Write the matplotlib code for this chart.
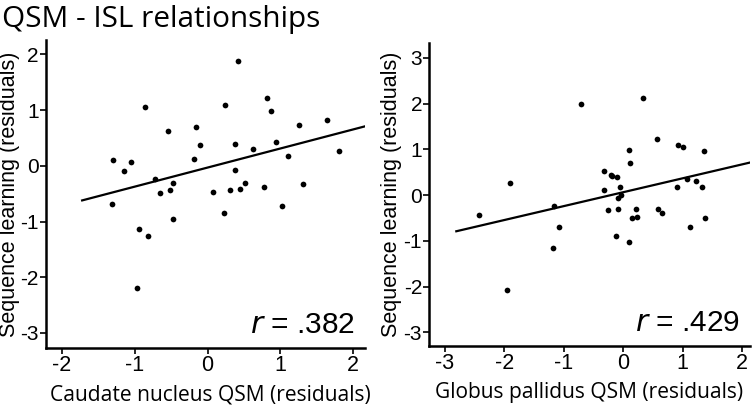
import numpy as np
import matplotlib
matplotlib.use("Agg")
import matplotlib.pyplot as plt

# caudate nucleus panel
caudate_x = [-1.30, -1.15, -1.05, -0.86, -0.72, -0.65, -0.54, -0.52, -0.48, -1.31,
             -0.19, -0.16, -0.10, 0.08, 0.24, 0.31, 0.37, 0.38, 0.42, 0.45,
             0.52, 0.62, 0.78, 0.82, 0.87, 0.94, 1.02, 1.11, 1.25, 1.31,
             1.64, 1.80, -0.94, -0.82, -0.47, 0.22, -0.97]
caudate_y = [0.11, -0.10, 0.07, 1.05, -0.23, -0.48, 0.62, -0.43, -0.30, -0.68,
             0.13, 0.70, 0.38, -0.47, 1.09, -0.44, 0.39, -0.07, 1.89, -0.41,
             -0.30, 0.31, -0.38, 1.21, 0.99, 0.42, -0.72, 0.18, 0.73, -0.32,
             0.83, 0.26, -1.14, -1.25, -0.96, -0.84, -2.20]
caudate_fit_x = [-1.72, 2.16]
caudate_fit_y = [-0.62, 0.71]

# globus pallidus panel
pallidus_x = [-1.90, -0.71, -1.17, 0.34, 0.57, 0.10, 0.12, 0.93, 1.01, 1.36,
              -0.32, -0.21, -0.18, -0.11, -0.32, -0.06, -0.03, -0.09, 0.90, 1.08,
              1.22, 1.32, -2.42, -1.08, -1.19, -1.95, -0.26, -0.08, 0.22, 0.14,
              0.23, 0.58, 0.65, -0.12, 0.10, 1.12, 1.38]
pallidus_y = [0.27, 1.98, -0.23, 2.12, 1.22, 0.98, 0.71, 1.10, 1.05, 0.97,
              0.52, 0.43, 0.41, 0.39, 0.12, 0.18, 0.01, -0.07, 0.17, 0.36,
              0.31, 0.17, -0.43, -0.69, -1.15, -2.07, -0.33, -0.30, -0.30, -0.49,
              -0.47, -0.31, -0.38, -0.90, -1.03, -0.70, -0.50]
pallidus_fit_x = [-2.81, 2.13]
pallidus_fit_y = [-0.79, 0.71]

panels = [
    dict(x=caudate_x, y=caudate_y, fx=caudate_fit_x, fy=caudate_fit_y,
         xlim=(-2.22, 2.16), ylim=(-3.27, 2.26),
         xticks=[-2, -1, 0, 1, 2], yticks=[-3, -2, -1, 0, 1, 2],
         xlabel="Caudate nucleus QSM (residuals)", r=".382",
         rect=[0.0607, 0.1491, 0.4240, 0.7531], xlab_x=0.515, ylab_x=-0.114),
    dict(x=pallidus_x, y=pallidus_y, fx=pallidus_fit_x, fy=pallidus_fit_y,
         xlim=(-3.27, 2.13), ylim=(-3.29, 3.33),
         xticks=[-3, -2, -1, 0, 1, 2], yticks=[-3, -2, -1, 0, 1, 2, 3],
         xlabel="Globus pallidus QSM (residuals)", r=".429",
         rect=[0.5697, 0.1548, 0.4259, 0.7408], xlab_x=0.50, ylab_x=-0.117),
]

fig = plt.figure(figsize=(7.53, 4.09), dpi=100)
fig.text(0.002, 0.934, "QSM - ISL relationships", family="Open Sans",
         fontsize=21.4, ha="left", va="baseline")

for p in panels:
    ax = fig.add_axes(p["rect"])
    ax.scatter(p["x"], p["y"], s=17, color="black", zorder=3, linewidths=0)
    ax.plot(p["fx"], p["fy"], color="black", lw=1.6)
    ax.set_xlim(*p["xlim"])
    ax.set_ylim(*p["ylim"])
    ax.set_xticks(p["xticks"])
    ax.set_yticks(p["yticks"])
    ax.set_xticklabels([str(t) for t in p["xticks"]], family="Liberation Sans", fontsize=15.5)
    ax.set_yticklabels([str(t) for t in p["yticks"]], family="Liberation Sans", fontsize=15)
    ax.tick_params(length=4, width=1.2, pad=1)
    for s in ["top", "right"]:
        ax.spines[s].set_visible(False)
    for s in ["left", "bottom"]:
        ax.spines[s].set_linewidth(1.8)
    ax.set_xlabel(p["xlabel"], family="Open Sans", fontsize=15.1, va="center")
    ax.xaxis.set_label_coords(p["xlab_x"], -0.153)
    ax.set_ylabel("Sequence learning (residuals)", family="Liberation Sans",
                  fontsize=15.5, va="center")
    ax.yaxis.set_label_coords(p["ylab_x"], 0.5)
    ax.text(0.97, 0.03, "$\\it{r}$ = " + p["r"], transform=ax.transAxes,
            ha="right", va="bottom", family="Liberation Sans", fontsize=21.5)

fig.savefig("out.png", dpi=100)
